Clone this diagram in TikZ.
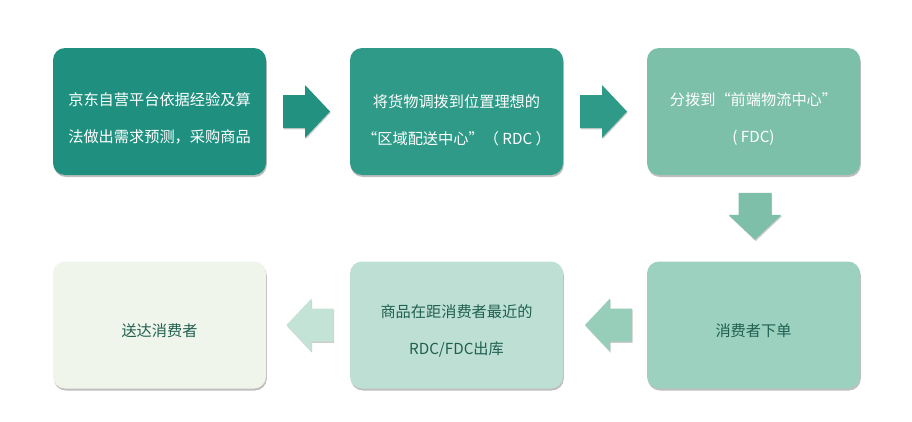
\documentclass[tikz,border=0pt]{standalone}
\usepackage{fontspec}
\setmainfont{Noto Sans CJK SC}
\usetikzlibrary{calc,shadows}
\definecolor{c1}{HTML}{1F9080}
\definecolor{c2}{HTML}{2E9A87}
\definecolor{c3}{HTML}{7CC0A9}
\definecolor{c4}{HTML}{9DD1BF}
\definecolor{c5}{HTML}{BEE0D4}
\definecolor{c6}{HTML}{F0F5EB}
\definecolor{ar1}{HTML}{22917F}
\definecolor{ar2}{HTML}{2E9A87}
\definecolor{ar3}{HTML}{7DBFA8}
\definecolor{ar4}{HTML}{96CEBA}
\definecolor{ar5}{HTML}{C4E3D7}
\definecolor{tdark}{HTML}{1F5F50}
\begin{document}
\begin{tikzpicture}[x=0.75pt,y=-0.75pt,
  box/.style={rounded corners=9pt, minimum width=159.75pt, minimum height=95.25pt, inner sep=0pt,
    drop shadow={shadow xshift=0.6pt, shadow yshift=-1.5pt, opacity=0.25, fill=black}},
  txt/.style={align=center, font=\fontsize{11.4}{27.75}\selectfont, inner sep=0pt},
  rarr/.pic={\fill[#1, drop shadow={shadow xshift=0.5pt, shadow yshift=-1pt, opacity=0.2, fill=black}]
     (-23.5,-16.5) -- (-1.5,-16.5) -- (-1.5,-26.5) -- (23.5,0) -- (-1.5,26.5) -- (-1.5,16.5) -- (-23.5,16.5) -- cycle;}
  ]
\useasboundingbox[fill=white] (0,0) rectangle (912,421);

% boxes
\node[box, fill=c1] (b1) at (159.5,111.5) {};
\node[box, fill=c2] (b2) at (456.5,111.5) {};
\node[box, fill=c3] (b3) at (753.5,111.5) {};
\node[box, fill=c4] (b4) at (753.5,325) {};
\node[box, fill=c5] (b5) at (456.5,325) {};
\node[box, fill=c6] (b6) at (159.5,325) {};

% texts
\node[txt, text=white] (t1) at ($(b1.center)+(0,7)$) {京东自营平台依据经验及算\\法做出需求预测，采购商品};
\node[txt, text=white] (t2) at ($(b2.center)+(0,9)$) {将货物调拨到位置理想的\\“区域配送中心”（ RDC ）};
\node[txt, text=white] (t3) at ($(b3.center)+(0,8)$) {分拨到“前端物流中心”\\( FDC)};
\node[txt, text=tdark] (t4) at ($(b4.center)+(0,6)$) {消费者下单};
\node[txt, text=tdark] (t5) at ($(b5.center)+(0,6)$) {商品在距消费者最近的\\RDC/FDC出库};
\node[txt, text=tdark] (t6) at ($(b6.center)+(0,6)$) {送达消费者};

% arrow anchors
\coordinate (a12) at ($(b1.east)!0.5!(b2.west)+(-1.5,0)$);
\coordinate (a23) at ($(b2.east)!0.5!(b3.west)+(-1.5,0)$);
\coordinate (a34) at ($(b3.south)!0.5!(b4.north)+(1.5,-2)$);
\coordinate (a45) at ($(b4.west)!0.5!(b5.east)+(3.5,0)$);
\coordinate (a56) at ($(b5.west)!0.5!(b6.east)+(2,0)$);

\pic at (a12) {rarr=ar1};
\pic at (a23) {rarr=ar2};
\pic[rotate=-90] at (a34) {rarr=ar3};
\pic[rotate=180] at (a45) {rarr=ar4};
\pic[rotate=180] at (a56) {rarr=ar5};
\end{tikzpicture}
\end{document}
